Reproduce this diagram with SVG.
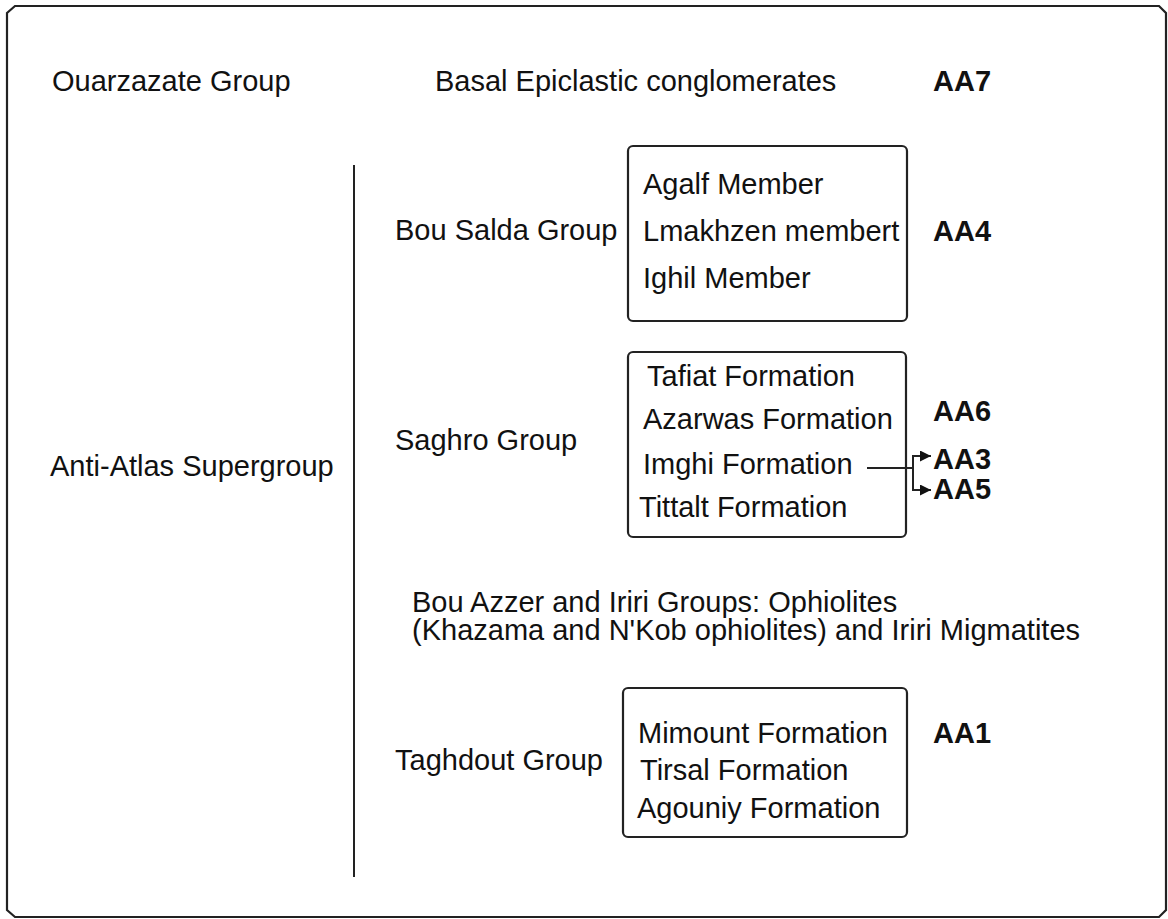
<svg xmlns="http://www.w3.org/2000/svg" width="1168" height="919" viewBox="0 0 1168 919">
<style>
.t{font-family:"Liberation Sans",Arial,sans-serif;font-size:29px;fill:#111}
.b{font-family:"Liberation Sans",Arial,sans-serif;font-size:29px;font-weight:bold;fill:#111}
.box{fill:none;stroke:#222;stroke-width:2.2}
.ln{fill:none;stroke:#222;stroke-width:2}
</style>
<defs>
<marker id="ah" viewBox="0 0 10 10" refX="10" refY="5" markerWidth="11" markerHeight="11" markerUnits="userSpaceOnUse" orient="auto">
<path d="M0,0 L10,5 L0,10 Z" fill="#111"/>
</marker>
</defs>
<rect width="1168" height="919" fill="#fff"/>
<g id="frame">
<path class="box" d="M15,6 H1159 L1166,13 V910 L1159,917 H15 L7,910 V13 Z"/>
</g>
<g id="ouarzazate"><text class="t" x="52" y="91">Ouarzazate Group</text></g>
<g id="basal"><text class="t" x="435" y="91">Basal Epiclastic conglomerates</text></g>
<g id="aa7"><text class="b" x="933" y="91">AA7</text></g>
<g id="supergroup">
<text class="t" x="50" y="476">Anti-Atlas Supergroup</text>
<line class="ln" x1="354" y1="165" x2="354" y2="877" stroke-width="2.5"/>
</g>
<g id="bousalda">
<text class="t" x="395" y="240">Bou Salda Group</text>
<rect class="box" x="628" y="146" width="279" height="175" rx="5"/>
<text class="t" x="643" y="194">Agalf Member</text>
<text class="t" x="643" y="241">Lmakhzen membert</text>
<text class="t" x="643" y="288">Ighil Member</text>
<text class="b" x="933" y="241">AA4</text>
</g>
<g id="saghro">
<text class="t" x="395" y="450">Saghro Group</text>
<rect class="box" x="628" y="352" width="278" height="185" rx="5"/>
<text class="t" x="647" y="386">Tafiat Formation</text>
<text class="t" x="643" y="429">Azarwas Formation</text>
<text class="t" x="643" y="474">Imghi Formation</text>
<text class="t" x="639" y="517">Tittalt Formation</text>
<text class="b" x="933" y="421">AA6</text>
<text class="b" x="933" y="469">AA3</text>
<text class="b" x="933" y="499">AA5</text>
</g>
<g id="bouazzer">
<text class="t" x="412" y="612">Bou Azzer and Iriri Groups: Ophiolites</text>
<text class="t" x="412" y="640">(Khazama and N'Kob ophiolites) and Iriri Migmatites</text>
</g>
<g id="taghdout">
<text class="t" x="395" y="770">Taghdout Group</text>
<rect class="box" x="623" y="688" width="284" height="149" rx="5"/>
<text class="t" x="638" y="743">Mimount Formation</text>
<text class="t" x="640" y="780">Tirsal Formation</text>
<text class="t" x="637" y="818">Agouniy Formation</text>
<text class="b" x="933" y="743">AA1</text>
</g>
<g id="connectors">
<path class="ln" d="M867,468 H913"/>
<path class="ln" d="M913,468 V456 H931" marker-end="url(#ah)"/>
<path class="ln" d="M913,468 V490 H931" marker-end="url(#ah)"/>
</g>
</svg>
